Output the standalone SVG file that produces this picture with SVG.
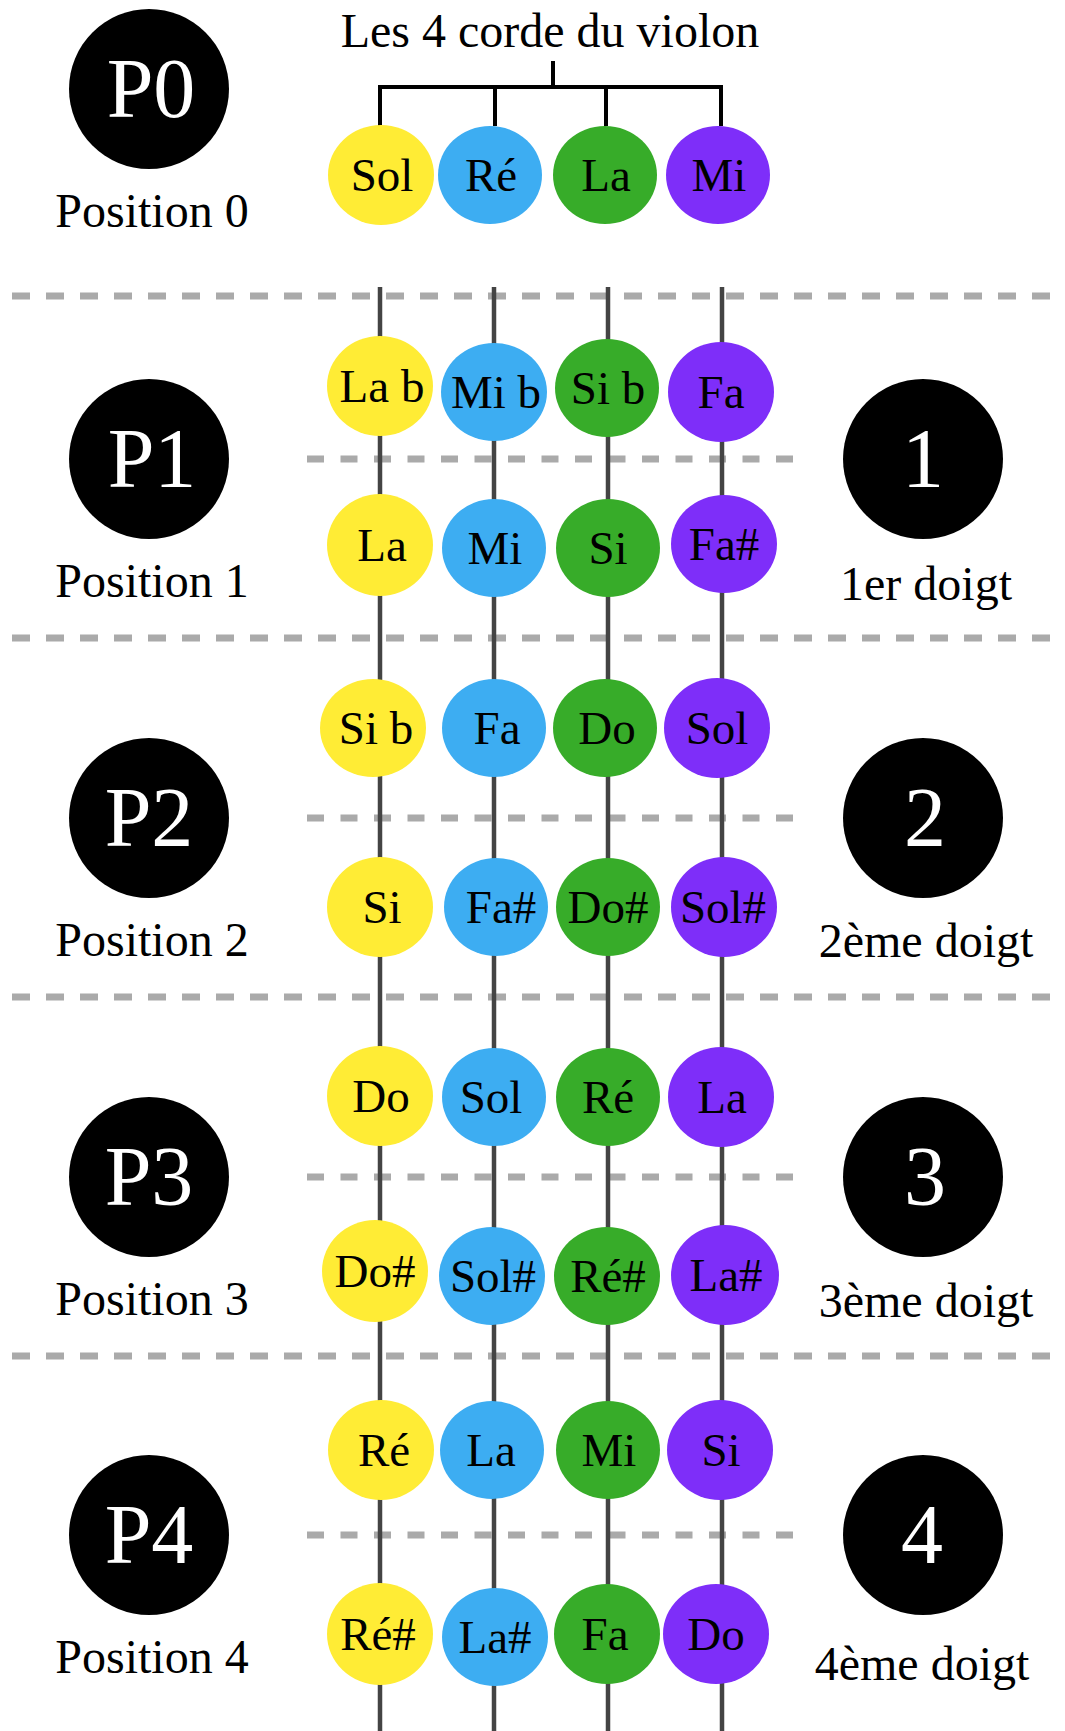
<svg xmlns="http://www.w3.org/2000/svg" width="1065" height="1731" viewBox="0 0 1065 1731">
<style>
  text { font-family: "Liberation Serif", "Times New Roman", serif; fill: #000; text-anchor: middle; }
  .big { fill: #000; }
  .bigtxt { fill: #fff; font-size: 84px; }
  .lab { font-size: 48px; }
  .note { font-size: 47px; }
  .title { font-size: 48px; }
  .y { fill: #ffec35; }
  .b { fill: #3dadf2; }
  .g { fill: #37ac29; }
  .p { fill: #7e2ef9; }
  .long { stroke: #aaaaaa; stroke-width: 7; stroke-dasharray: 18 16; fill: none; }
  .short { stroke: #aaaaaa; stroke-width: 7; stroke-dasharray: 17 16.5; fill: none; }
  .str { stroke: #444444; stroke-width: 4.5; fill: none; }
  .br { stroke: #000; stroke-width: 4; fill: none; }
</style>
<rect width="1065" height="1731" fill="#ffffff"/>
<g id="grid">
  <line class="long" x1="12" y1="296" x2="1065" y2="296"/>
  <line class="long" x1="12" y1="638" x2="1065" y2="638"/>
  <line class="long" x1="12" y1="997" x2="1065" y2="997"/>
  <line class="long" x1="12" y1="1356" x2="1065" y2="1356"/>
  <line class="short" x1="307" y1="459" x2="795" y2="459"/>
  <line class="short" x1="307" y1="818" x2="795" y2="818"/>
  <line class="short" x1="307" y1="1177" x2="795" y2="1177"/>
  <line class="short" x1="307" y1="1535" x2="795" y2="1535"/>
</g>
<g id="connectors">
  <line class="str" x1="380" y1="287" x2="380" y2="1731"/>
  <line class="str" x1="494" y1="287" x2="494" y2="1731"/>
  <line class="str" x1="608" y1="287" x2="608" y2="1731"/>
  <line class="str" x1="722" y1="287" x2="722" y2="1731"/>
  <path class="br" d="M553 61 V87 M380 126 V87 H721 V126 M495 87 V126 M606 87 V126"/>
</g>
<g id="title"><text class="title" x="550" y="47">Les 4 corde du violon</text></g>

<g id="P0"><circle class="big" cx="149" cy="89" r="80"/><text class="bigtxt" x="151" y="117">P0</text><text class="lab" x="152" y="227">Position 0</text></g>
<g id="P1"><circle class="big" cx="149" cy="459" r="80"/><text class="bigtxt" x="152" y="487">P1</text><text class="lab" x="152" y="597">Position 1</text></g>
<g id="P2"><circle class="big" cx="149" cy="818" r="80"/><text class="bigtxt" x="149" y="846">P2</text><text class="lab" x="152" y="956">Position 2</text></g>
<g id="P3"><circle class="big" cx="149" cy="1177" r="80"/><text class="bigtxt" x="149" y="1205">P3</text><text class="lab" x="152" y="1315">Position 3</text></g>
<g id="P4"><circle class="big" cx="149" cy="1535" r="80"/><text class="bigtxt" x="149" y="1563">P4</text><text class="lab" x="152" y="1673">Position 4</text></g>

<g id="F1"><circle class="big" cx="923" cy="459" r="80"/><text class="bigtxt" x="923" y="487">1</text><text class="lab" x="926" y="600">1er doigt</text></g>
<g id="F2"><circle class="big" cx="923" cy="818" r="80"/><text class="bigtxt" x="925" y="846">2</text><text class="lab" x="926" y="957">2ème doigt</text></g>
<g id="F3"><circle class="big" cx="923" cy="1177" r="80"/><text class="bigtxt" x="925" y="1205">3</text><text class="lab" x="926" y="1317">3ème doigt</text></g>
<g id="F4"><circle class="big" cx="923" cy="1535" r="80"/><text class="bigtxt" x="922" y="1563">4</text><text class="lab" x="922" y="1680">4ème doigt</text></g>

<g id="n0-sol"><ellipse class="y" cx="381" cy="175" rx="53" ry="50"/><text class="note" x="382" y="191">Sol</text></g>
<g id="n0-re"><ellipse class="b" cx="490" cy="175" rx="52" ry="49"/><text class="note" x="491" y="191">Ré</text></g>
<g id="n0-la"><ellipse class="g" cx="605" cy="175" rx="52" ry="49"/><text class="note" x="606" y="191">La</text></g>
<g id="n0-mi"><ellipse class="p" cx="718" cy="175" rx="52" ry="49"/><text class="note" x="719" y="191">Mi</text></g>

<g id="n1a-lab"><ellipse class="y" cx="380" cy="386" rx="53" ry="50"/><text class="note" x="382" y="402">La b</text></g>
<g id="n1a-mib"><ellipse class="b" cx="494" cy="392" rx="53" ry="49"/><text class="note" x="496" y="408">Mi b</text></g>
<g id="n1a-sib"><ellipse class="g" cx="607" cy="388" rx="52" ry="49"/><text class="note" x="608" y="404">Si b</text></g>
<g id="n1a-fa"><ellipse class="p" cx="721" cy="392" rx="53" ry="50"/><text class="note" x="721" y="408">Fa</text></g>

<g id="n1b-la"><ellipse class="y" cx="380" cy="545" rx="53" ry="51"/><text class="note" x="382" y="561">La</text></g>
<g id="n1b-mi"><ellipse class="b" cx="494" cy="548" rx="52" ry="49"/><text class="note" x="495" y="564">Mi</text></g>
<g id="n1b-si"><ellipse class="g" cx="608" cy="548" rx="52" ry="49"/><text class="note" x="608" y="564">Si</text></g>
<g id="n1b-fad"><ellipse class="p" cx="724" cy="544" rx="53" ry="49"/><text class="note" x="724" y="560">Fa#</text></g>

<g id="n2a-sib"><ellipse class="y" cx="373" cy="728" rx="53" ry="49"/><text class="note" x="376" y="744">Si b</text></g>
<g id="n2a-fa"><ellipse class="b" cx="494" cy="728" rx="52" ry="49"/><text class="note" x="497" y="744">Fa</text></g>
<g id="n2a-do"><ellipse class="g" cx="605" cy="728" rx="52" ry="49"/><text class="note" x="607" y="744">Do</text></g>
<g id="n2a-sol"><ellipse class="p" cx="717" cy="728" rx="53" ry="50"/><text class="note" x="717" y="744">Sol</text></g>

<g id="n2b-si"><ellipse class="y" cx="380" cy="907" rx="53" ry="50"/><text class="note" x="382" y="923">Si</text></g>
<g id="n2b-fad"><ellipse class="b" cx="496" cy="907" rx="52" ry="49"/><text class="note" x="501" y="923">Fa#</text></g>
<g id="n2b-dod"><ellipse class="g" cx="608" cy="907" rx="52" ry="49"/><text class="note" x="608" y="923">Do#</text></g>
<g id="n2b-sold"><ellipse class="p" cx="724" cy="907" rx="53" ry="50"/><text class="note" x="723" y="923">Sol#</text></g>

<g id="n3a-do"><ellipse class="y" cx="380" cy="1096" rx="53" ry="50"/><text class="note" x="381" y="1112">Do</text></g>
<g id="n3a-sol"><ellipse class="b" cx="494" cy="1097" rx="52" ry="49"/><text class="note" x="491" y="1113">Sol</text></g>
<g id="n3a-re"><ellipse class="g" cx="608" cy="1097" rx="52" ry="49"/><text class="note" x="608" y="1113">Ré</text></g>
<g id="n3a-la"><ellipse class="p" cx="721" cy="1097" rx="53" ry="50"/><text class="note" x="722" y="1113">La</text></g>

<g id="n3b-dod"><ellipse class="y" cx="375" cy="1271" rx="53" ry="51"/><text class="note" x="375" y="1287">Do#</text></g>
<g id="n3b-sold"><ellipse class="b" cx="492" cy="1276" rx="53" ry="49"/><text class="note" x="493" y="1292">Sol#</text></g>
<g id="n3b-red"><ellipse class="g" cx="607" cy="1276" rx="53" ry="49"/><text class="note" x="608" y="1292">Ré#</text></g>
<g id="n3b-lad"><ellipse class="p" cx="725" cy="1275" rx="54" ry="50"/><text class="note" x="726" y="1291">La#</text></g>

<g id="n4a-re"><ellipse class="y" cx="381" cy="1450" rx="53" ry="50"/><text class="note" x="384" y="1466">Ré</text></g>
<g id="n4a-la"><ellipse class="b" cx="492" cy="1450" rx="52" ry="49"/><text class="note" x="491" y="1466">La</text></g>
<g id="n4a-mi"><ellipse class="g" cx="608" cy="1450" rx="52" ry="49"/><text class="note" x="609" y="1466">Mi</text></g>
<g id="n4a-si"><ellipse class="p" cx="720" cy="1450" rx="53" ry="50"/><text class="note" x="721" y="1466">Si</text></g>

<g id="n4b-red"><ellipse class="y" cx="380" cy="1634" rx="53" ry="51"/><text class="note" x="378" y="1650">Ré#</text></g>
<g id="n4b-lad"><ellipse class="b" cx="495" cy="1637" rx="53" ry="49"/><text class="note" x="495" y="1653">La#</text></g>
<g id="n4b-fa"><ellipse class="g" cx="607" cy="1634" rx="53" ry="50"/><text class="note" x="605" y="1650">Fa</text></g>
<g id="n4b-do"><ellipse class="p" cx="716" cy="1634" rx="53" ry="50"/><text class="note" x="716" y="1650">Do</text></g>
</svg>
